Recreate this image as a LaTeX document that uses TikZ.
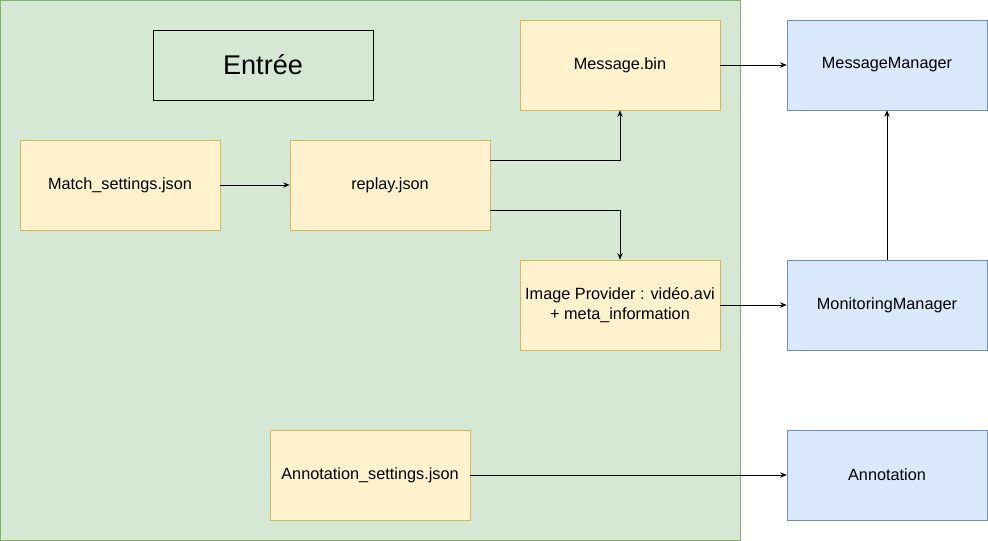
\documentclass[tikz,border=0pt]{standalone}
\usepackage{fontspec}
\setmainfont{Liberation Sans}
\usetikzlibrary{arrows.meta}
\definecolor{zonefill}{HTML}{D5E8D4}
\definecolor{zonedraw}{HTML}{82B366}
\definecolor{filefill}{HTML}{FFF2CC}
\definecolor{filedraw}{HTML}{D6B656}
\definecolor{mgrfill}{HTML}{DAE8FC}
\definecolor{mgrdraw}{HTML}{6C8EBF}

\tikzset{
	filebox/.style = {draw=filedraw, fill=filefill, minimum width=150pt, minimum height=67.5pt, align=center, font=\fontsize{12.2}{14.5}\selectfont, inner sep=0pt},
	mgrbox/.style = {draw=mgrdraw, fill=mgrfill, minimum width=150pt, minimum height=67.5pt, align=center, font=\fontsize{12.2}{14.5}\selectfont, inner sep=0pt},
	flow/.style = {-{Stealth[length=5pt, width=4pt]}, line width=0.6pt}
}

\begin{document}
\begin{tikzpicture}[x = 0.75pt, y = -0.75pt]
		\useasboundingbox (0,0) rectangle (988,541);
		\draw[zonedraw, fill=zonefill, line width=0.6pt] (0.5,0.5) rectangle (740,540);
		\node[draw=black, line width=0.6pt, minimum width=165pt, minimum height=52.5pt, inner sep=0pt, font=\fontsize{20.3}{22}\selectfont] (entree) at (263,65) {Entrée};
		% fichiers d'entree
		\node[filebox] (msgbin) at (620,65) {Message.bin};
		\node[filebox] (match) at (120,185) {Match\_settings.json};
		\node[filebox] (replay) at (390,185) {replay.json};
		\node[filebox] (imgprov) at (620,305) {Image Provider : vidéo.avi\\+ meta\_information};
		\node[filebox] (annset) at (370,475) {Annotation\_settings.json};
		% managers
		\node[mgrbox] (msgmgr) at (887,65) {MessageManager};
		\node[mgrbox] (monmgr) at (887,305) {MonitoringManager};
		\node[mgrbox] (annot) at (887,475) {Annotation};
		% liens
		\draw[flow] (msgbin) -- (msgmgr);
		\draw[flow] (match) -- (replay);
		\draw[flow] ([yshift=18.75pt]replay.east) -| (msgbin.south);
		\draw[flow] ([yshift=-18.75pt]replay.east) -| (imgprov.north);
		\draw[flow] (imgprov) -- (monmgr);
		\draw[flow] (monmgr) -- (msgmgr);
		\draw[flow] (annset) -- (annot);
	\end{tikzpicture}
\end{document}
